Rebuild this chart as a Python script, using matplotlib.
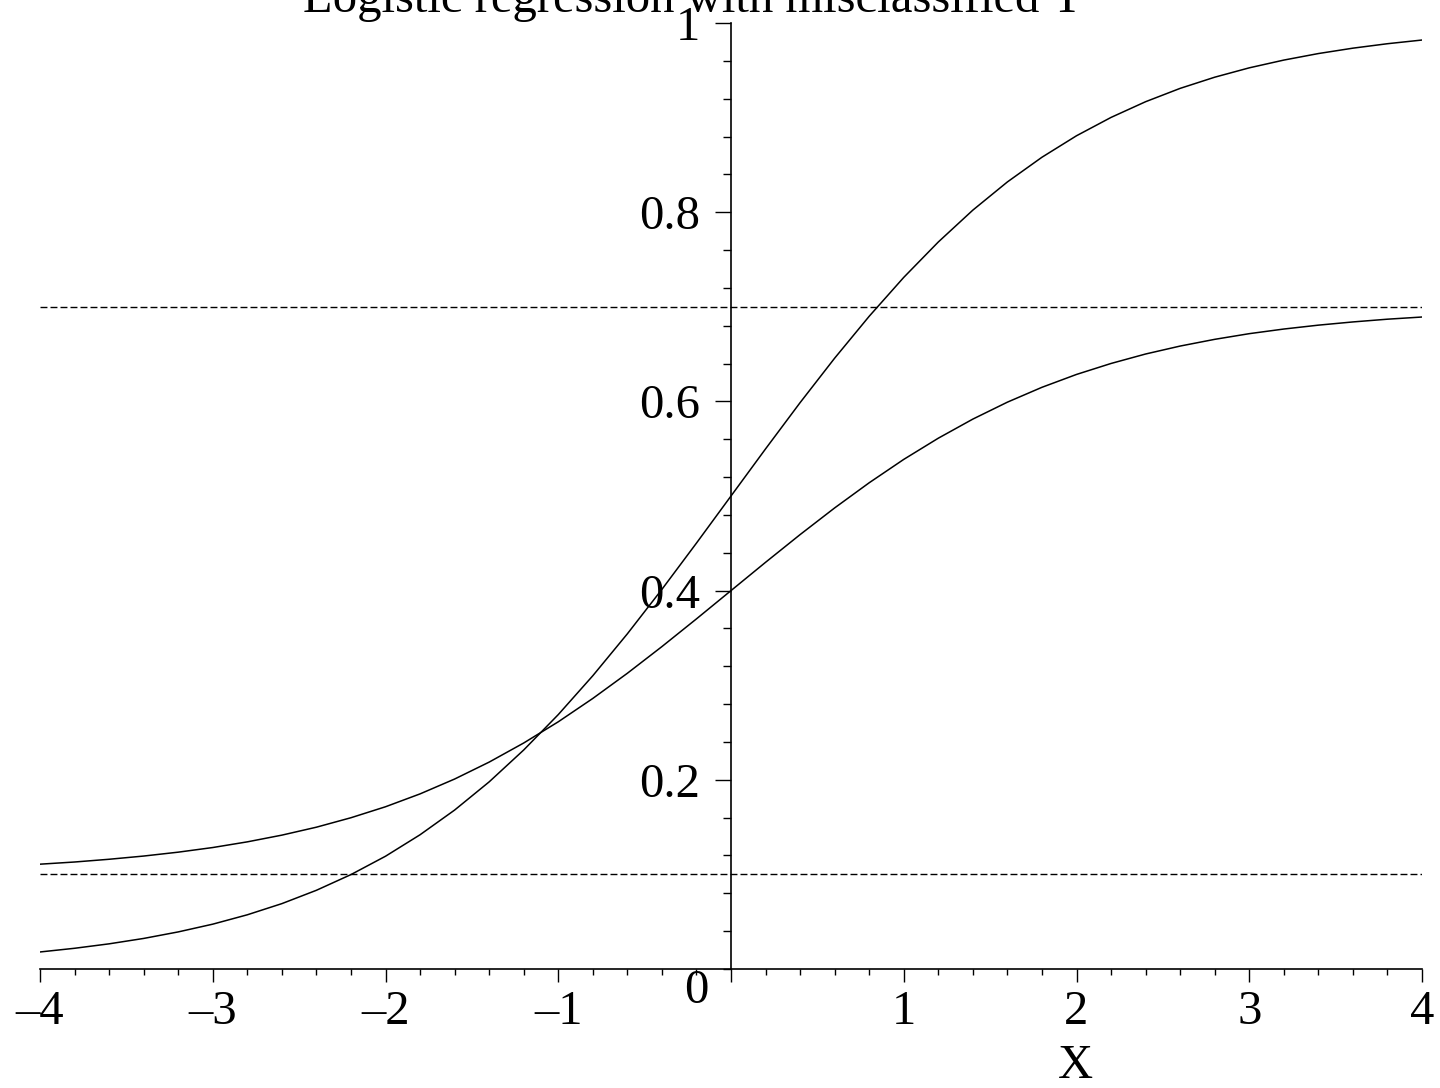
import matplotlib
matplotlib.use("Agg")
import matplotlib.pyplot as plt
from matplotlib.ticker import MultipleLocator, FixedLocator

plt.rcParams['font.family'] = ['Liberation Serif', 'DejaVu Serif']

# Data
x_vals = [-4.0, -3.8, -3.6, -3.4, -3.2, -3.0, -2.8, -2.6, -2.4, -2.2, -2.0,
          -1.8, -1.6, -1.4, -1.2, -1.0, -0.8, -0.6, -0.4, -0.2, 0.0,
          0.2, 0.4, 0.6, 0.8, 1.0, 1.2, 1.4, 1.6, 1.8, 2.0,
          2.2, 2.4, 2.6, 2.8, 3.0, 3.2, 3.4, 3.6, 3.8, 4.0]
logistic_true = [0.0180, 0.0219, 0.0266, 0.0323, 0.0392, 0.0474, 0.0573, 0.0691, 0.0832, 0.0998, 0.1192,
                 0.1419, 0.1680, 0.1978, 0.2315, 0.2689, 0.3100, 0.3543, 0.4013, 0.4502, 0.5000,
                 0.5498, 0.5987, 0.6457, 0.6900, 0.7311, 0.7685, 0.8022, 0.8320, 0.8581, 0.8808,
                 0.9002, 0.9168, 0.9309, 0.9427, 0.9526, 0.9608, 0.9677, 0.9734, 0.9781, 0.9820]
logistic_misclassified = [0.1108, 0.1131, 0.1160, 0.1194, 0.1235, 0.1284, 0.1344, 0.1415, 0.1499, 0.1599, 0.1715,
                          0.1851, 0.2008, 0.2187, 0.2389, 0.2613, 0.2860, 0.3126, 0.3408, 0.3701, 0.4000,
                          0.4299, 0.4592, 0.4874, 0.5140, 0.5387, 0.5611, 0.5813, 0.5992, 0.6149, 0.6285,
                          0.6401, 0.6501, 0.6585, 0.6656, 0.6716, 0.6765, 0.6806, 0.6840, 0.6869, 0.6892]
asymptotes = [0.1, 0.7]
x_ticks = [-4, -3, -2, -1, 0, 1, 2, 3, 4]
x_ticklabels = ["\u20134", "\u20133", "\u20132", "\u20131", "", "1", "2", "3", "4"]
y_ticks = [0.2, 0.4, 0.6, 0.8, 1.0]
y_ticklabels = ["0.2", "0.4", "0.6", "0.8", "1"]
title = "Logistic regression with misclassified Y"
xlabel = "X"

W, H = 1440, 1088
fig = plt.figure(figsize=(W / 100, H / 100), dpi=100)
ax = fig.add_axes([40 / W, 119 / H, 1382 / W, 946 / H])
ax.set_xlim(-4, 4)
ax.set_ylim(0, 1)

FS = 35

ax.plot(x_vals, logistic_true, color='black', lw=1.1)
ax.plot(x_vals, logistic_misclassified, color='black', lw=1.1)
for a in asymptotes:
    ax.plot([x_vals[0], x_vals[-1]], [a, a], color='black', lw=1.0, dashes=(5, 2.2))

for s in ['top', 'right']:
    ax.spines[s].set_visible(False)
ax.spines['left'].set_position(('data', 0))
ax.spines['bottom'].set_position(('data', 0))
ax.spines['left'].set_linewidth(1.2)
ax.spines['bottom'].set_linewidth(1.2)

ax.xaxis.set_major_locator(FixedLocator(x_ticks))
ax.set_xticklabels(x_ticklabels)
ax.xaxis.set_minor_locator(MultipleLocator(0.2))
ax.yaxis.set_major_locator(FixedLocator(y_ticks))
ax.set_yticklabels(y_ticklabels)
ax.yaxis.set_minor_locator(MultipleLocator(0.04))

ax.tick_params(axis='x', which='major', direction='out', length=9.4, width=1.0, pad=5.8, labelsize=FS)
ax.tick_params(axis='x', which='minor', direction='out', length=4.3, width=1.0)
ax.tick_params(axis='y', which='major', direction='out', length=11.5, width=1.0, pad=10.8, labelsize=FS)
ax.tick_params(axis='y', which='minor', direction='out', length=5.8, width=1.0)

# origin label
ax.annotate("0", xy=(-0.2, 0), xytext=(0, -16), textcoords='offset points',
            ha='center', va='center', fontsize=FS)

fig.text(694 / W, 1 - 12 / H, title, ha='center', va='baseline', fontsize=FS)
fig.text(1075 / W, 1 - 1066 / H, xlabel, ha='center', va='center', fontsize=FS)

fig.savefig("out.png", dpi=100)
